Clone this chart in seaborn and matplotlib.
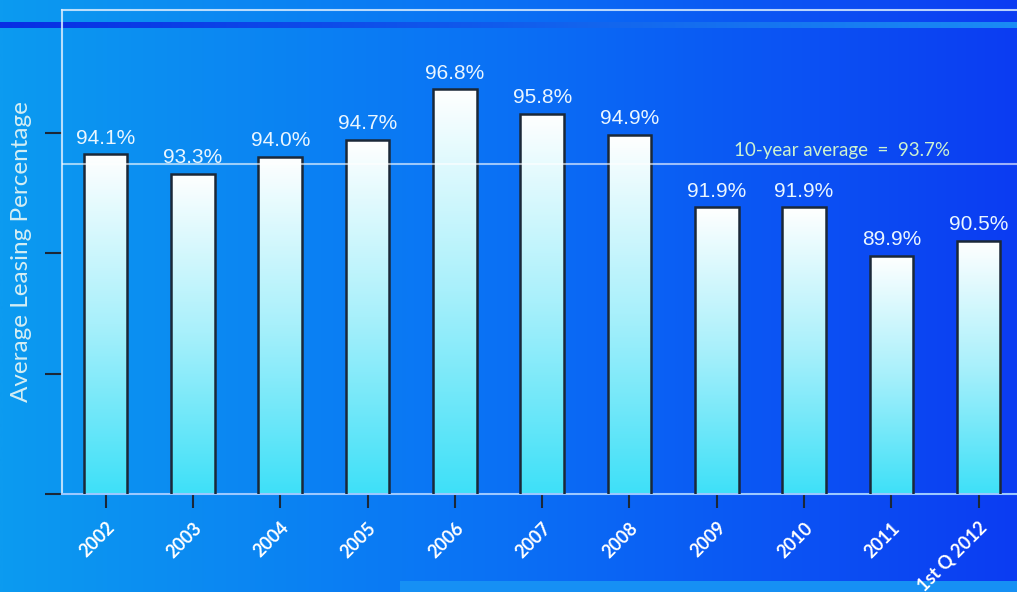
import numpy as np
import pandas as pd
import matplotlib
matplotlib.use("Agg")
import matplotlib.pyplot as plt
from matplotlib.colors import LinearSegmentedColormap
import seaborn as sns

# Average leasing percentage by year
years = ["2002", "2003", "2004", "2005", "2006", "2007", "2008",
         "2009", "2010", "2011", "1st Q 2012"]
leasing_pct = [94.1, 93.3, 94.0, 94.7, 96.8, 95.8, 94.9, 91.9, 91.9, 89.9, 90.5]
ten_year_avg = 93.7
y_ticks = [80, 85, 90, 95]

df = pd.DataFrame({"year": years, "pct": leasing_pct})

sns.set_theme(style="white")
plt.rcParams["font.family"] = ["Liberation Sans", "DejaVu Sans"]

W, H = 1017, 592
fig = plt.figure(figsize=(W / 100, H / 100), dpi=100)

# ---- background: horizontal blue gradient with decorative bands ----
bg = fig.add_axes([0, 0, 1, 1], zorder=0)
bg.set_axis_off()
left_c = np.array([12, 155, 240]) / 255
mid_c = np.array([10, 112, 245]) / 255
right_c = np.array([12, 60, 242]) / 255
bg_cmap = LinearSegmentedColormap.from_list("bg", [left_c, mid_c, right_c])
grad = np.linspace(0, 1, 512)[None, :]
bg.imshow(grad, extent=(0, W, H, 0), aspect="auto", cmap=bg_cmap, zorder=0)

band_cmap = LinearSegmentedColormap.from_list(
    "band", [np.array([8, 45, 228]) / 255, np.array([26, 140, 245]) / 255])
bg.imshow(grad, extent=(0, W, 28, 22), aspect="auto", cmap=band_cmap, zorder=1)
bg.add_patch(plt.Rectangle((400, 581), W - 400, 12, color="#1690f4", lw=0, zorder=1))
bg.set_xlim(0, W)
bg.set_ylim(H, 0)

# ---- main chart axes ----
ax_left, ax_right = 62, 1031
ax_top, ax_bottom = 10, 494
ax = fig.add_axes([ax_left / W, 1 - ax_bottom / H,
                   (ax_right - ax_left) / W, (ax_bottom - ax_top) / H], zorder=2)
ax.patch.set_alpha(0)

sns.barplot(data=df, x="year", y="pct", width=0.5, ax=ax,
            color="white", edgecolor="#1b2838", linewidth=1.8)

# white-to-cyan gradient fill inside each bar
bar_cmap = LinearSegmentedColormap.from_list(
    "bar", ["#3ee0f8", "#a8f0fb", "#ffffff"])
vgrad = np.linspace(0, 1, 256)[:, None]
for patch in ax.patches:
    x0 = patch.get_x()
    w = patch.get_width()
    h = patch.get_height()
    im = ax.imshow(vgrad, extent=(x0, x0 + w, 80, h), origin="lower",
                   aspect="auto", cmap=bar_cmap, zorder=2)
    im.set_clip_path(patch)
    patch.set_facecolor("none")
    patch.set_zorder(3)
ax.set_xlim(-0.5, 10.6)
ax.set_ylim(80, 100.1)

# value labels
for i, v in enumerate(leasing_pct):
    ax.annotate(f"{v:.1f}%", (i, v), xytext=(0, 5), textcoords="offset points",
                ha="center", va="bottom", fontsize=15, color="#eaf6ff", zorder=5)

# ten-year average line
ax.axhline(ten_year_avg, color="white", alpha=0.6, lw=1.5, zorder=4)
ax.text(8.43, ten_year_avg + 0.2, f"10-year average  =  {ten_year_avg}%",
        ha="center", va="bottom", fontsize=13.5, color="#cdf2d0",
        family=["Lato", "DejaVu Sans"], zorder=5)

# axes styling
for side in ["left", "top"]:
    ax.spines[side].set_color("#d8ecff")
    ax.spines[side].set_linewidth(1.5)
    ax.spines[side].set_alpha(0.85)
ax.spines["bottom"].set_color("#9cc8ff")
ax.spines["bottom"].set_linewidth(1.5)
ax.spines["right"].set_visible(False)

ax.set_yticks(y_ticks)
ax.set_yticklabels([])
ax.tick_params(axis="y", left=True, length=12, width=1.5, color="#1b2838", direction="out")
ax.tick_params(axis="x", bottom=True, length=10, width=1.5, color="#1b2838",
               direction="out", pad=8)
ax.set_xticks(range(len(years)))
ax.set_xticklabels(years, rotation=45, ha="right", rotation_mode="anchor",
                   fontsize=13, color="white", family=["Lato", "DejaVu Sans"],
                   fontweight="bold")
ax.set_xlabel("")
ax.set_ylabel("Average Leasing Percentage", fontsize=17.5, color="#d4eef4",
              family=["Lato", "DejaVu Sans"], labelpad=6)

fig.savefig("out.png", dpi=100)
